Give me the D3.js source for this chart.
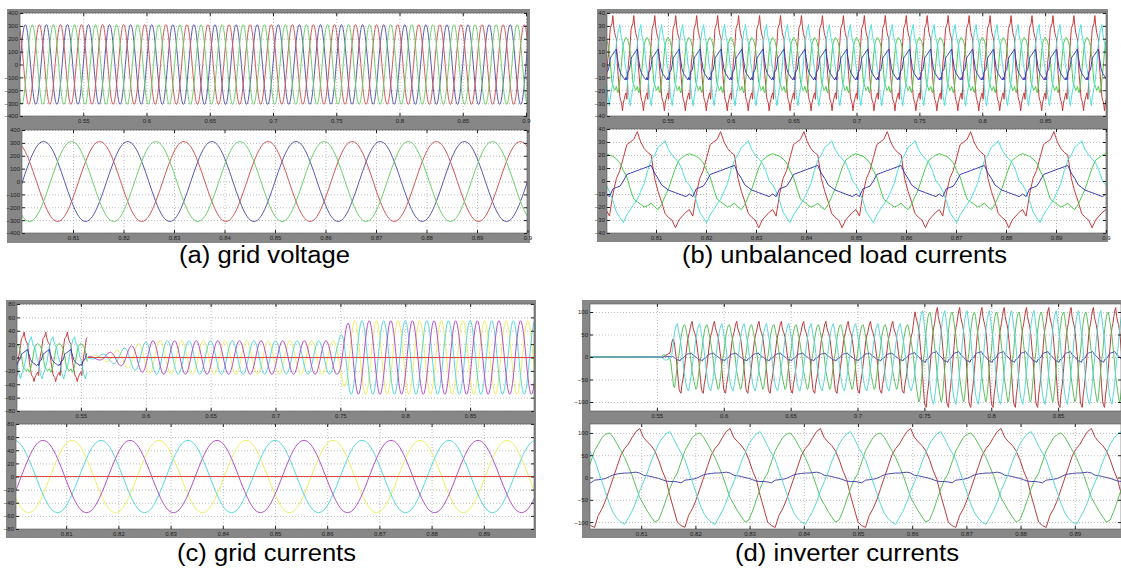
<!DOCTYPE html>
<html>
<head>
<meta charset="utf-8">
<script src="https://cdn.jsdelivr.net/npm/d3@7"></script>
<style>
body { margin: 0; background: #fff; }
svg { display: block; font-family: "Liberation Sans", Arial, sans-serif; }
.cap { font-size: 23.5px; fill: #000; }
</style>
</head>
<body>
<div id="chart"></div>
<script>
// time base of the cycle tables
const T0 = 0.5;
const FREQ = 60;
const SPC = 24;            // samples per cycle

// one cycle of a clean sine, normalised
const SINE_CYCLE = [0, 0.26, 0.5, 0.71, 0.87, 0.97, 1, 0.97, 0.87, 0.71, 0.5, 0.26,
                    0, -0.26, -0.5, -0.71, -0.87, -0.97, -1, -0.97, -0.87, -0.71, -0.5, -0.26];

// (a) grid voltage
const VOLT_AMP = 310;
const VOLT_SHIFT = [8, 16, 0];          // red, green, blue (in samples)

// (b) unbalanced load currents, one cycle each starting at t = 0.8
const LOAD_RED   = [-22, -27, -10, 2, 8, 18, 28, 30, 32, 38, 30, 25, 22, 20, 2, -8, -16, -25, -28, -30, -36, -30, -27, -24];
const LOAD_CYAN  = [-3, -8, -15, -24, -28, -32, -26, -22, -18, -14, -8, -2, 8, 16, 20, 26, 28, 31, 24, 20, 17, 14, 8, 0];
const LOAD_GREEN = [21, 20, 19, 17, 14, 8, 3, -6, -14, -16, -18, -20, -19, -17, -20, -22, -18, -12, -6, 2, 10, 16, 18, 20];
const LOAD_BLUE  = [-10, -12, -6, -5, -4, 0, 5, 6, 7, 8, 9, 10, 11, 12, 6, 2, -3, -5, -7, -8, -9, -10, -11, -12];

// (c) grid currents
const GRID_SWITCH = 0.555;
const GRID_SHIFT = [14, 6, 22];         // yellow, cyan, magenta
const GRID_ENV_T = [0.555, 0.565, 0.575, 0.585, 0.595, 0.605, 0.748, 0.752, 0.757, 0.9];
const GRID_ENV_A = [1, 4, 9, 15, 21, 25, 25, 40, 55, 55];

// (d) inverter currents, one cycle each starting at t = 0.8
const INV_RED   = [-100, -108, -112, -85, -70, -50, -25, 0, 25, 50, 65, 75, 90, 103, 110, 90, 80, 72, 60, 40, 15, -5, -40, -70];
const INV_GREEN = [10, 35, 60, 75, 90, 97, 100, 90, 75, 60, 45, 25, 5, -20, -45, -60, -75, -88, -100, -95, -75, -50, -25, -5];
const INV_CYAN  = [70, 55, 40, 15, -10, -35, -60, -80, -92, -100, -105, -90, -75, -55, -30, -10, 10, 35, 55, 75, 88, 98, 103, 88];
const INV_BLUE  = [-10, -12, -6, -5, -4, -2, 2, 6, 8, 9, 10, 10, 11, 12, 10, 5, 4, 2, 0, -2, -5, -8, -9, -9];
const INV_ENV_T = [0.5, 0.553, 0.555, 0.56, 0.5615, 0.563, 0.741, 0.744, 0.9];
const INV_ENV_A = [0, 0, 0.06, 0.08, 0.5, 0.72, 0.72, 1, 1];

// ticks
const TICKS_LONG  = [0.55, 0.6, 0.65, 0.7, 0.75, 0.8, 0.85, 0.9];
const TICKS_SHORT = [0.81, 0.82, 0.83, 0.84, 0.85, 0.86, 0.87, 0.88, 0.89, 0.9];
const VOLT_TICKS = [-400, -300, -200, -100, 0, 100, 200, 300, 400];
const LOAD_TICKS = [-40, -30, -20, -10, 0, 10, 20, 30, 40];
const GRID_TICKS = [-80, -60, -40, -20, 0, 20, 40, 60, 80];
const INV_TICKS  = [-100, -50, 0, 50, 100];

const CAPTIONS = ["(a) grid voltage", "(b) unbalanced load currents", "(c) grid currents", "(d) inverter currents"];

// ---------------------------------------------------------------------------
const W = 1121, H = 569;
const svg = d3.select("#chart").append("svg").attr("width", W).attr("height", H);
svg.append("rect").attr("width", W).attr("height", H).attr("fill", "#fff");
const defs = svg.append("defs");

function sampleTimes(t1, t2) {
    const n0 = Math.ceil((t1 - T0) * FREQ * SPC), n1 = Math.floor((t2 - T0) * FREQ * SPC);
    return d3.range(n0, n1 + 1).map(n => ({ n, t: T0 + n / (FREQ * SPC) }));
}
function fromCycle(cycle, shift, t1, t2, env, gain = 1) {
    return sampleTimes(t1, t2).map(s => ({
        t: s.t,
        v: cycle[((s.n + shift) % SPC + SPC) % SPC] * gain * (env ? env(s.t) : 1)
    }));
}
const gridEnv = d3.scaleLinear().domain(GRID_ENV_T).range(GRID_ENV_A).clamp(true);
const invEnv = d3.scaleLinear().domain(INV_ENV_T).range(INV_ENV_A).clamp(true);

function voltSeries(t1, t2) {
    const col = ["#d05a5a", "#6fcf6f", "#5a5ab0"];
    return [2, 0, 1].map(i => ({ color: col[i], values: fromCycle(SINE_CYCLE, VOLT_SHIFT[i], t1, t2, null, VOLT_AMP) }));
}
function loadSeries(t1, t2) {
    return [
        { color: "#c83c3c", values: fromCycle(LOAD_RED, 0, t1, t2) },
        { color: "#4ccc4c", values: fromCycle(LOAD_GREEN, 0, t1, t2) },
        { color: "#4fdede", values: fromCycle(LOAD_CYAN, 0, t1, t2) },
        { color: "#3a3ab4", values: fromCycle(LOAD_BLUE, 0, t1, t2) }
    ];
}
function gridSeries(t1, t2) {
    const col = ["#eeee66", "#5ad8dc", "#b452c8"];
    const out = [0, 1, 2].map(i => ({ color: col[i], values: fromCycle(SINE_CYCLE, GRID_SHIFT[i], t1, t2, gridEnv) }));
    out.push({ color: "#d84a4a", values: [{ t: t1, v: 0 }, { t: t2, v: 0 }] });
    return out;
}
function invSeries(t1, t2) {
    return [
        { color: "#b83c3c", values: fromCycle(INV_RED, 0, t1, t2, invEnv) },
        { color: "#5cc05c", values: fromCycle(INV_GREEN, 0, t1, t2, invEnv) },
        { color: "#4a4aa8", values: fromCycle(INV_BLUE, 0, t1, t2, invEnv) },
        { color: "#5cd6d6", values: fromCycle(INV_CYAN, 0, t1, t2, invEnv) }
    ];
}

// gray figure backgrounds
const FRAMES = [[7, 9, 530, 243], [597, 9, 1108, 242], [6, 300, 536, 538], [582, 300, 1121, 538]];
FRAMES.forEach(f => svg.append("rect").attr("x", f[0]).attr("y", f[1])
    .attr("width", f[2] - f[0]).attr("height", f[3] - f[1]).attr("fill", "#878787"));

const fmtX = d => String(+d.toFixed(2));

const AXES = [
    { id: "a1", box: [20, 13, 527, 116], xd: [0.5, 0.9], xr: [20, 526], yd: [-400, 400], yr: [116, 13], xt: TICKS_LONG, yt: VOLT_TICKS,
      curve: d3.curveCatmullRom, series: voltSeries(0.49, 0.91) },
    { id: "a2", box: [22, 130, 527, 233], xd: [0.8, 0.9], xr: [22.5, 527.5], yd: [-400, 400], yr: [233, 130], xt: TICKS_SHORT, yt: VOLT_TICKS,
      curve: d3.curveCatmullRom, series: voltSeries(0.79, 0.91) },
    { id: "b1", box: [607, 13, 1106, 116], xd: [0.5, 0.9], xr: [605, 1108], yd: [-40, 40], yr: [116, 13], xt: TICKS_LONG, yt: LOAD_TICKS,
      curve: d3.curveLinear, series: loadSeries(0.49, 0.91) },
    { id: "b2", box: [607, 129, 1106, 233], xd: [0.8, 0.9], xr: [606, 1106], yd: [-40, 40], yr: [233, 129], xt: TICKS_SHORT, yt: LOAD_TICKS,
      curve: d3.curveLinear, series: loadSeries(0.79, 0.91) },
    { id: "c1", box: [17, 304, 534, 411], xd: [0.5, 0.9], xr: [16, 535], yd: [-80, 80], yr: [411, 304], xt: TICKS_LONG, yt: GRID_TICKS,
      curve: d3.curveLinear, series: loadSeries(0.49, GRID_SWITCH).concat(gridSeries(GRID_SWITCH, 0.91)) },
    { id: "c2", box: [16, 424, 534, 529], xd: [0.8, 0.9], xr: [14, 536], yd: [-80, 80], yr: [529, 424], xt: TICKS_SHORT, yt: GRID_TICKS,
      curve: d3.curveCatmullRom, series: gridSeries(0.79, 0.91) },
    { id: "d1", box: [590, 304, 1121, 411], xd: [0.5, 0.9], xr: [590, 1125], yd: [-120, 120], yr: [411, 303], xt: TICKS_LONG, yt: INV_TICKS,
      curve: d3.curveLinear, series: invSeries(0.49, 0.91) },
    { id: "d2", box: [590, 424, 1121, 529], xd: [0.8, 0.9], xr: [587, 1129], yd: [-120, 120], yr: [531, 424], xt: TICKS_SHORT, yt: INV_TICKS,
      curve: d3.curveLinear, series: invSeries(0.79, 0.91) }
];

function styleAxis(sel) {
    sel.attr("font-size", 6).attr("font-family", "'Liberation Sans', Arial, sans-serif").attr("color", "#222");
    sel.select(".domain").remove();
}

function drawAxes(cfg) {
    const [x0, y0, x1, y1] = cfg.box;
    const x = d3.scaleLinear().domain(cfg.xd).range(cfg.xr);
    const y = d3.scaleLinear().domain(cfg.yd).range(cfg.yr);
    const xt = cfg.xt.filter(v => x(v) > x0 + 1 && x(v) <= x1 + 0.6);
    const g = svg.append("g");

    g.append("rect").attr("x", x0).attr("y", y0).attr("width", x1 - x0).attr("height", y1 - y0).attr("fill", "#fff");

    // dotted grid
    g.append("g").attr("transform", `translate(0,${y1})`)
        .call(d3.axisBottom(x).tickValues(xt).tickSize(-(y1 - y0)).tickFormat(""))
        .call(styleAxis)
        .selectAll("line").attr("stroke", "#a0a0a0").attr("stroke-dasharray", "1,2").attr("stroke-width", 0.7);
    g.append("g").attr("transform", `translate(${x0},0)`)
        .call(d3.axisLeft(y).tickValues(cfg.yt).tickSize(-(x1 - x0)).tickFormat(""))
        .call(styleAxis)
        .selectAll("line").attr("stroke", "#a0a0a0").attr("stroke-dasharray", "1,2").attr("stroke-width", 0.7);

    // waveforms
    const cid = "clip-" + cfg.id;
    defs.append("clipPath").attr("id", cid).append("rect")
        .attr("x", x0).attr("y", y0).attr("width", x1 - x0).attr("height", y1 - y0);
    const line = d3.line().x(d => x(d.t)).y(d => y(d.v)).curve(cfg.curve);
    const lg = g.append("g").attr("clip-path", `url(#${cid})`);
    cfg.series.forEach(s => {
        lg.append("path").attr("d", line(s.values)).attr("fill", "none")
            .attr("stroke", s.color).attr("stroke-width", 1);
    });

    // box and inner ticks
    g.append("rect").attr("x", x0).attr("y", y0).attr("width", x1 - x0).attr("height", y1 - y0)
        .attr("fill", "none").attr("stroke", "#555").attr("stroke-width", 0.6);
    g.append("g").attr("transform", `translate(0,${y1})`)
        .call(d3.axisBottom(x).tickValues(xt).tickSize(-3).tickFormat("")).call(styleAxis);
    g.append("g").attr("transform", `translate(0,${y0})`)
        .call(d3.axisTop(x).tickValues(xt).tickSize(-3).tickFormat("")).call(styleAxis);
    g.append("g").attr("transform", `translate(${x0},0)`)
        .call(d3.axisLeft(y).tickValues(cfg.yt).tickSize(-3).tickFormat("")).call(styleAxis);
    g.append("g").attr("transform", `translate(${x1},0)`)
        .call(d3.axisRight(y).tickValues(cfg.yt).tickSize(-3).tickFormat("")).call(styleAxis);

    // labels
    g.append("g").attr("transform", `translate(0,${y1})`)
        .call(d3.axisBottom(x).tickValues(xt).tickSize(0).tickPadding(3).tickFormat(fmtX)).call(styleAxis);
    g.append("g").attr("transform", `translate(${x0},0)`)
        .call(d3.axisLeft(y).tickValues(cfg.yt).tickSize(0).tickPadding(2)).call(styleAxis);
}

AXES.forEach(drawAxes);

// captions: x, baseline, drawn width
const CAP_POS = [[179, 263, 171], [682, 263, 325], [177, 561, 179], [735, 561, 224]];
CAPTIONS.forEach((c, i) => svg.append("text").attr("class", "cap")
    .attr("x", CAP_POS[i][0]).attr("y", CAP_POS[i][1])
    .attr("textLength", CAP_POS[i][2]).attr("lengthAdjust", "spacingAndGlyphs")
    .text(c));
</script>
</body>
</html>
